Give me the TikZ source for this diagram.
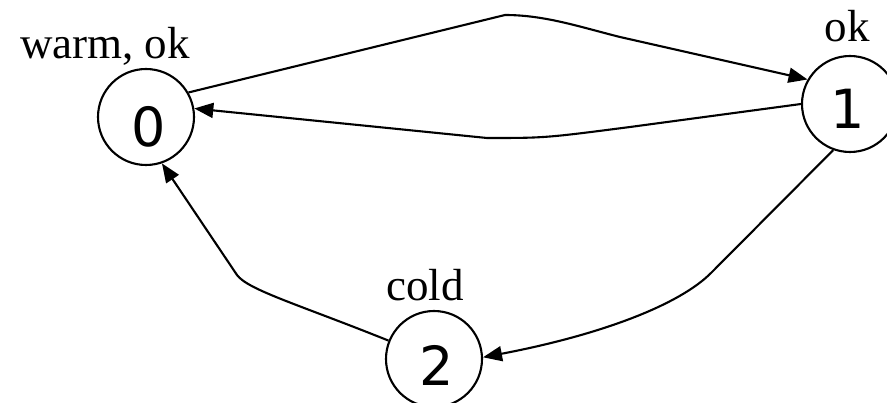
\documentclass[tikz,border=0pt]{standalone}
\usepackage{fontspec}
\setmainfont{Liberation Serif}
\newfontfamily\digitfont{DejaVu Sans}
\usetikzlibrary{arrows.meta}
\begin{document}
\begin{tikzpicture}[x=1pt,y=-1pt,
  state/.style={circle,draw,line width=2.1pt,minimum size=96pt,inner sep=0pt},
  digit/.style={font=\digitfont\fontsize{54}{60}\selectfont,inner sep=0pt},
  lab/.style={font=\fontsize{45}{52}\selectfont,anchor=base,inner sep=0pt},
  edge/.style={line width=2.1pt,-{Triangle[length=19pt,width=15pt]}}]
\useasboundingbox (0,0) rectangle (887,403);
\node[state] (n0) at (146,117) {};
\node[state] (n1) at (850,104) {};
\node[state] (n2) at (434,359) {};
\node[digit] (d0) at (149,127) {0};
\node[digit] (d1) at (848,109) {1};
\node[digit] (d2) at (437,365) {2};
\node[lab] (l0) at (105,59) {warm, ok};
\node[lab] (l1) at (847,42) {ok};
\node[lab] (l2) at (425,301) {cold};
\coordinate (c1) at (505,15);
\coordinate (c1b) at (620,37);
\coordinate (c2) at (487,138);
\coordinate (c2b) at (630,127);
\coordinate (c3) at (712,272);
\coordinate (c4) at (237,275);
\draw[edge] (n0.30) -- (c1) .. controls (545,15) and (580,27) .. (c1b) -- (n1.150);
\draw[edge] (n1.180) -- (c2b) .. controls (545,138) .. (c2) -- (n0.10);
\draw[edge] (n1.250) -- (c3) .. controls (680,305) and (600,335) .. (n2.2);
\draw[edge] (n2.158) .. controls (300,305) and (248,290) .. (c4) -- (n0.289);
\end{tikzpicture}
\end{document}
